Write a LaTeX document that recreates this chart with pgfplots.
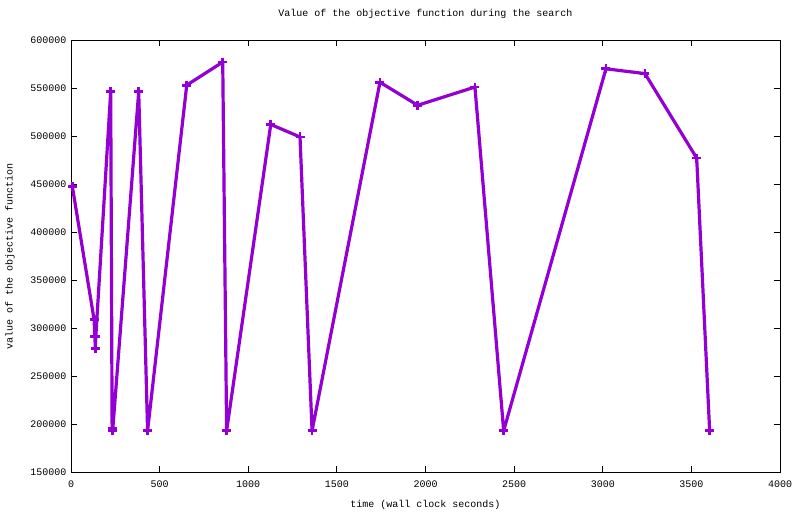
\documentclass[border=0pt]{standalone}
\usepackage{fontspec}
\setmainfont{Liberation Mono}
\usepackage{pgfplots}
\pgfplotsset{compat=1.18}
\definecolor{gpviolet}{RGB}{148,0,211}
\begin{document}
\begin{tikzpicture}[x=1pt,y=1pt]
\useasboundingbox (0,0) rectangle (800,514);
\begin{axis}[
  at={(71pt,42pt)}, anchor=south west,
  width=709pt, height=432pt, scale only axis,
  xmin=0, xmax=4000, ymin=150000, ymax=600000,
  xtick={0,500,...,4000},
  ytick={150000,200000,...,600000},
  scaled ticks=false,
  /pgf/number format/assume math mode=true,
  /pgf/number format/.cd, 1000 sep={}, fixed, /pgfplots/.cd,
  tick align=inside, major tick length=6pt,
  xtick pos=both, ytick pos=both,
  axis line style={line width=0.8pt},
  tick style={line width=0.8pt, black},
  ticklabel style={font=\fontsize{10}{12}\selectfont},
  xticklabel style={yshift=-5pt},
  yticklabel style={xshift=-1pt},
  title={Value of the objective function during the search},
  title style={font=\fontsize{10}{12}\selectfont, at={(axis description cs:0.5,1)}, anchor=center, yshift=20pt},
  xlabel={time (wall clock seconds)},
  ylabel={value of the objective function},
  label style={font=\fontsize{10}{12}\selectfont},
  xlabel style={at={(axis description cs:0.5,-0.076)}, anchor=center},
  ylabel style={at={(axis description cs:-0.086,0.5)}, anchor=center},
]
\addplot[color=gpviolet, line width=3.2pt, line join=round,
  mark=+, mark size=4.5pt, mark options={line width=2.8pt, solid}]
coordinates {
(8,447000)
(130,309000)
(135,291000)
(137,279000)
(140,291000)
(224,546000)
(232,195000)
(235,193000)
(382,546000)
(432,193000)
(653,553000)
(856,577000)
(878,193000)
(1127,512000)
(1292,499000)
(1360,193000)
(1743,556000)
(1956,532000)
(2279,551000)
(2441,193000)
(3018,570000)
(3238,565000)
(3530,477000)
(3603,193000)
};
\end{axis}
\end{tikzpicture}
\end{document}
